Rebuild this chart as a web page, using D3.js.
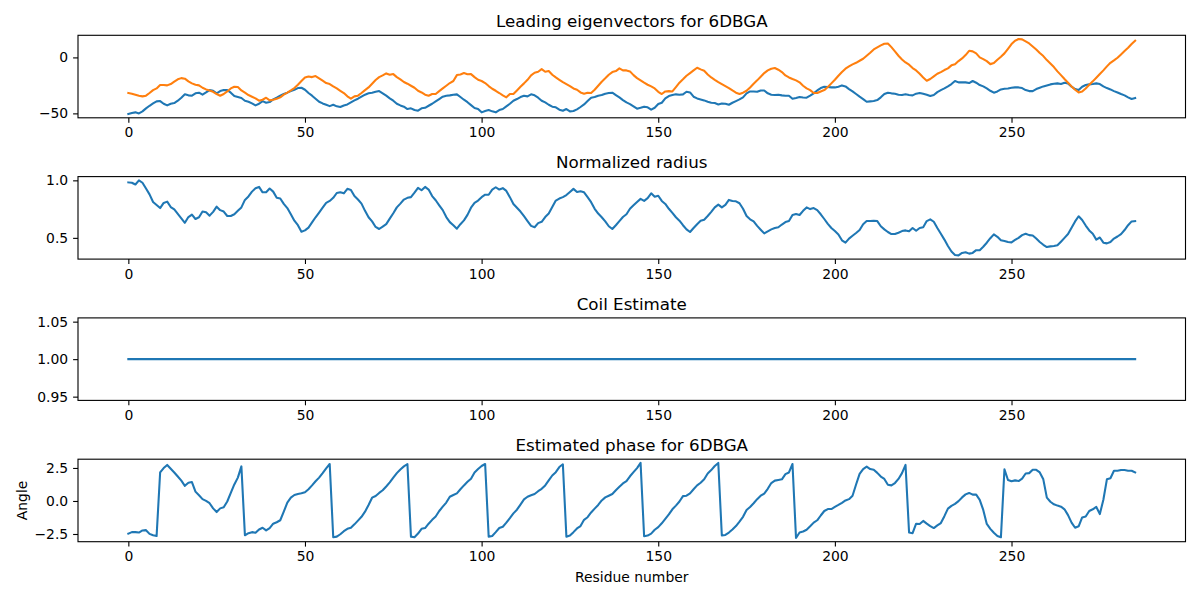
<!DOCTYPE html>
<html>
<head>
<meta charset="utf-8">
<script src="https://cdn.jsdelivr.net/npm/d3@7"></script>
<style>
  body { margin: 0; background: #fff; }
  svg { display: block; font-family: "DejaVu Sans", sans-serif; }
</style>
</head>
<body>
<svg id="chart" width="1200" height="600"></svg>
<script>
// leading eigenvectors (residues 0..285)
var eigvec1 = [
  -50.6, -49.7, -49.1, -50.0, -48.2, -45.5, -43.2, -41.1, -39.3, -39.0,
  -41.4, -42.9, -41.4, -40.8, -38.7, -36.0, -33.0, -33.9, -34.2, -32.1,
  -31.5, -33.3, -31.3, -29.2, -29.8, -32.1, -30.1, -29.2, -29.2, -31.5,
  -34.5, -35.4, -36.3, -38.7, -39.6, -41.1, -42.9, -41.4, -39.0, -40.5,
  -39.9, -37.5, -36.0, -34.2, -32.7, -31.5, -30.1, -28.9, -27.4, -27.1,
  -28.9, -31.8, -34.2, -36.9, -39.6, -41.1, -42.3, -43.5, -42.3, -43.7,
  -44.3, -42.9, -42.0, -40.2, -38.4, -36.9, -35.1, -33.3, -32.1, -31.5,
  -30.7, -30.1, -32.1, -34.2, -36.6, -38.7, -41.4, -42.9, -44.0, -46.1,
  -45.5, -47.0, -47.6, -45.5, -45.0, -43.2, -41.4, -39.3, -37.2, -35.1,
  -34.2, -33.9, -33.3, -33.0, -35.4, -37.8, -40.0, -42.6, -45.2, -46.1,
  -49.1, -47.9, -47.0, -48.2, -49.1, -47.0, -46.1, -43.7, -41.4, -38.7,
  -37.2, -35.4, -34.2, -34.8, -33.0, -33.9, -36.0, -38.7, -40.2, -42.3,
  -44.0, -44.6, -46.7, -47.6, -46.1, -48.2, -47.9, -46.4, -44.3, -42.0,
  -39.0, -36.0, -35.4, -34.2, -33.6, -32.4, -31.8, -31.5, -33.6, -35.7,
  -38.1, -40.2, -41.7, -43.7, -45.8, -45.0, -44.0, -44.6, -46.7, -45.0,
  -41.7, -40.5, -36.6, -34.5, -33.6, -33.0, -33.3, -33.0, -30.7, -31.3,
  -35.1, -36.6, -37.5, -38.4, -39.6, -40.5, -40.8, -42.0, -41.1, -41.4,
  -42.3, -40.5, -39.0, -37.5, -35.7, -32.1, -30.4, -30.4, -30.7, -29.5,
  -29.5, -32.1, -33.3, -33.6, -33.3, -33.9, -34.2, -34.2, -36.9, -36.3,
  -35.4, -35.8, -36.0, -34.2, -32.1, -29.5, -27.4, -26.2, -26.5, -26.8,
  -26.8, -26.2, -25.0, -25.9, -28.3, -30.4, -32.7, -35.1, -37.2, -39.6,
  -39.3, -39.0, -38.1, -35.7, -32.7, -31.5, -32.1, -32.4, -33.3, -33.6,
  -33.0, -33.6, -33.9, -32.4, -31.8, -32.4, -33.3, -34.5, -33.6, -31.0,
  -29.2, -27.7, -25.9, -23.8, -21.1, -22.3, -22.3, -22.3, -22.9, -21.1,
  -22.6, -24.7, -25.9, -27.7, -29.8, -31.5, -30.4, -28.6, -28.0, -27.7,
  -27.1, -26.8, -26.8, -27.4, -29.2, -30.1, -30.1, -28.3, -27.1, -25.9,
  -25.0, -24.1, -23.5, -23.2, -23.8, -22.6, -23.2, -26.2, -28.3, -29.2,
  -26.2, -24.7, -24.1, -23.8, -23.2, -23.8, -25.9, -27.4, -28.6, -30.1,
  -31.3, -32.7, -33.9, -35.7, -37.2, -36.3
];
var eigvec2 = [
  -31.8, -32.4, -33.3, -34.2, -34.8, -34.2, -31.8, -29.2, -27.7, -24.7,
  -24.7, -25.0, -23.8, -21.7, -19.6, -18.5, -19.0, -21.4, -23.2, -24.4,
  -25.0, -27.1, -28.6, -29.5, -30.7, -32.7, -34.2, -32.7, -30.4, -27.7,
  -26.2, -26.5, -29.5, -31.5, -33.6, -35.1, -36.6, -38.7, -37.8, -36.0,
  -38.4, -37.8, -36.9, -35.7, -33.3, -31.5, -29.5, -27.4, -24.4, -21.1,
  -17.9, -17.0, -17.6, -16.7, -18.7, -20.8, -22.9, -23.8, -25.9, -27.7,
  -29.8, -31.8, -34.8, -36.9, -34.8, -34.2, -31.8, -29.2, -26.8, -23.5,
  -20.2, -17.6, -16.1, -14.3, -15.5, -14.9, -17.6, -19.6, -22.0, -23.5,
  -25.3, -27.1, -29.8, -31.3, -33.3, -34.2, -32.7, -32.7, -30.1, -27.7,
  -25.3, -22.9, -21.1, -15.8, -15.2, -14.0, -15.0, -14.9, -17.6, -20.0,
  -21.1, -22.9, -25.6, -28.0, -29.8, -31.8, -33.9, -35.7, -32.7, -32.7,
  -29.5, -26.2, -23.2, -20.0, -16.1, -13.7, -12.8, -10.4, -12.8, -12.2,
  -15.5, -17.9, -20.0, -22.0, -23.8, -25.6, -27.7, -28.9, -31.3, -32.4,
  -31.5, -31.8, -28.9, -25.3, -21.7, -18.7, -15.5, -13.1, -12.2, -9.8,
  -11.6, -11.6, -12.5, -15.8, -18.5, -20.5, -22.6, -24.4, -25.9, -27.7,
  -30.7, -32.7, -30.4, -30.1, -30.4, -26.5, -22.6, -19.6, -16.4, -14.0,
  -11.6, -9.2, -10.7, -11.9, -15.2, -17.9, -20.0, -22.0, -23.8, -25.6,
  -27.4, -29.5, -31.5, -32.7, -31.5, -29.8, -26.8, -23.5, -20.5, -17.3,
  -14.0, -11.6, -10.1, -9.5, -11.0, -13.1, -16.1, -17.9, -19.3, -20.5,
  -22.3, -25.3, -27.6, -29.2, -31.8, -31.8, -30.4, -29.2, -26.5, -23.2,
  -20.0, -16.4, -13.1, -10.1, -8.0, -6.2, -4.8, -3.0, -1.2, 1.5,
  4.2, 7.1, 8.9, 10.7, 12.2, 12.5, 9.2, 5.4, 1.5, -1.8,
  -4.5, -6.5, -9.5, -11.6, -14.6, -17.9, -20.8, -19.3, -17.0, -14.6,
  -13.1, -11.3, -9.8, -7.1, -6.2, -3.3, -0.9, 2.1, 5.9, 5.4,
  3.6, 0.0, -1.5, -3.3, -6.0, -5.1, -2.1, 0.6, 3.6, 7.7,
  11.9, 14.9, 16.4, 16.1, 14.3, 12.5, 9.8, 7.1, 3.9, 1.2,
  -2.4, -5.4, -8.6, -12.5, -15.8, -19.3, -22.6, -25.9, -28.9, -31.3,
  -30.4, -27.7, -24.4, -21.4, -18.2, -14.9, -11.6, -8.0, -4.8, -2.7,
  -0.3, 2.7, 5.7, 8.6, 11.9, 14.9
];
var radius = [
  0.982, 0.979, 0.964, 1.0, 0.979, 0.929, 0.878, 0.812, 0.786, 0.759,
  0.804, 0.815, 0.768, 0.747, 0.708, 0.670, 0.631, 0.681, 0.702, 0.664,
  0.679, 0.729, 0.723, 0.693, 0.726, 0.771, 0.741, 0.729, 0.690, 0.690,
  0.705, 0.735, 0.765, 0.830, 0.860, 0.902, 0.932, 0.943, 0.896, 0.896,
  0.929, 0.902, 0.848, 0.842, 0.795, 0.759, 0.705, 0.649, 0.610, 0.554,
  0.565, 0.589, 0.634, 0.679, 0.720, 0.762, 0.804, 0.821, 0.848, 0.890,
  0.896, 0.887, 0.926, 0.917, 0.863, 0.833, 0.798, 0.735, 0.679, 0.643,
  0.595, 0.577, 0.598, 0.619, 0.667, 0.714, 0.765, 0.798, 0.833, 0.848,
  0.854, 0.893, 0.935, 0.914, 0.943, 0.920, 0.863, 0.827, 0.783, 0.741,
  0.681, 0.637, 0.610, 0.580, 0.619, 0.652, 0.700, 0.762, 0.804, 0.824,
  0.854, 0.875, 0.875, 0.920, 0.940, 0.920, 0.932, 0.908, 0.854, 0.795,
  0.762, 0.729, 0.688, 0.646, 0.604, 0.592, 0.628, 0.640, 0.681, 0.711,
  0.768, 0.824, 0.842, 0.854, 0.872, 0.899, 0.926, 0.899, 0.905, 0.896,
  0.854, 0.810, 0.753, 0.711, 0.679, 0.643, 0.601, 0.577, 0.610, 0.646,
  0.681, 0.705, 0.753, 0.783, 0.812, 0.839, 0.821, 0.845, 0.887, 0.857,
  0.866, 0.821, 0.795, 0.753, 0.717, 0.679, 0.649, 0.610, 0.574, 0.551,
  0.586, 0.619, 0.649, 0.658, 0.690, 0.726, 0.765, 0.789, 0.765, 0.786,
  0.830, 0.821, 0.818, 0.801, 0.753, 0.690, 0.661, 0.643, 0.604, 0.571,
  0.539, 0.557, 0.574, 0.586, 0.592, 0.616, 0.637, 0.646, 0.699, 0.708,
  0.699, 0.735, 0.765, 0.750, 0.759, 0.741, 0.705, 0.664, 0.622, 0.586,
  0.559, 0.530, 0.479, 0.458, 0.494, 0.518, 0.542, 0.568, 0.619, 0.646,
  0.646, 0.649, 0.646, 0.601, 0.574, 0.551, 0.533, 0.533, 0.545, 0.559,
  0.565, 0.557, 0.586, 0.562, 0.586, 0.592, 0.646, 0.661, 0.640, 0.586,
  0.536, 0.485, 0.429, 0.381, 0.351, 0.348, 0.369, 0.375, 0.363, 0.369,
  0.393, 0.393, 0.423, 0.458, 0.497, 0.530, 0.509, 0.479, 0.473, 0.464,
  0.461, 0.482, 0.500, 0.524, 0.536, 0.524, 0.521, 0.494, 0.464, 0.440,
  0.420, 0.426, 0.429, 0.435, 0.467, 0.500, 0.533, 0.589, 0.643, 0.688,
  0.655, 0.607, 0.565, 0.536, 0.485, 0.503, 0.458, 0.452, 0.464, 0.494,
  0.512, 0.533, 0.568, 0.610, 0.643, 0.646
];
var coil = [
  1, 1, 1, 1, 1, 1, 1, 1, 1, 1, 1, 1, 1, 1, 1, 1, 1, 1, 1, 1,
  1, 1, 1, 1, 1, 1, 1, 1, 1, 1, 1, 1, 1, 1, 1, 1, 1, 1, 1, 1,
  1, 1, 1, 1, 1, 1, 1, 1, 1, 1, 1, 1, 1, 1, 1, 1, 1, 1, 1, 1,
  1, 1, 1, 1, 1, 1, 1, 1, 1, 1, 1, 1, 1, 1, 1, 1, 1, 1, 1, 1,
  1, 1, 1, 1, 1, 1, 1, 1, 1, 1, 1, 1, 1, 1, 1, 1, 1, 1, 1, 1,
  1, 1, 1, 1, 1, 1, 1, 1, 1, 1, 1, 1, 1, 1, 1, 1, 1, 1, 1, 1,
  1, 1, 1, 1, 1, 1, 1, 1, 1, 1, 1, 1, 1, 1, 1, 1, 1, 1, 1, 1,
  1, 1, 1, 1, 1, 1, 1, 1, 1, 1, 1, 1, 1, 1, 1, 1, 1, 1, 1, 1,
  1, 1, 1, 1, 1, 1, 1, 1, 1, 1, 1, 1, 1, 1, 1, 1, 1, 1, 1, 1,
  1, 1, 1, 1, 1, 1, 1, 1, 1, 1, 1, 1, 1, 1, 1, 1, 1, 1, 1, 1,
  1, 1, 1, 1, 1, 1, 1, 1, 1, 1, 1, 1, 1, 1, 1, 1, 1, 1, 1, 1,
  1, 1, 1, 1, 1, 1, 1, 1, 1, 1, 1, 1, 1, 1, 1, 1, 1, 1, 1, 1,
  1, 1, 1, 1, 1, 1, 1, 1, 1, 1, 1, 1, 1, 1, 1, 1, 1, 1, 1, 1,
  1, 1, 1, 1, 1, 1, 1, 1, 1, 1, 1, 1, 1, 1, 1, 1, 1, 1, 1, 1,
  1, 1, 1, 1, 1, 1
];
var phase = [
  -2.47, -2.36, -2.36, -2.39, -2.23, -2.21, -2.49, -2.60, -2.65, 2.16,
  2.49, 2.73, 2.44, 2.16, 1.85, 1.54, 1.15, 1.38, 1.43, 0.71,
  0.43, 0.14, 0.01, -0.17, -0.56, -0.84, -0.56, -0.48, -0.04, 0.61,
  1.25, 1.77, 2.62, -2.60, -2.44, -2.36, -2.41, -2.16, -2.03, -2.23,
  -2.05, -1.72, -1.61, -1.46, -0.81, -0.12, 0.25, 0.45, 0.53, 0.58,
  0.66, 0.89, 1.18, 1.49, 1.77, 2.11, 2.47, 2.80, -2.75, -2.70,
  -2.52, -2.29, -2.11, -2.03, -1.77, -1.49, -1.20, -0.81, -0.30, 0.25,
  0.38, 0.61, 0.81, 1.10, 1.41, 1.77, 2.11, 2.39, 2.62, 2.80,
  -2.70, -2.75, -2.47, -2.11, -2.05, -1.72, -1.43, -1.18, -0.76, -0.43,
  -0.12, 0.32, 0.45, 0.58, 0.89, 1.18, 1.45, 1.69, 2.16, 2.42,
  2.65, 2.80, -2.70, -2.65, -2.36, -2.05, -1.95, -1.64, -1.30, -0.94,
  -0.66, -0.27, 0.12, 0.32, 0.43, 0.53, 0.74, 0.92, 1.18, 1.56,
  1.93, 2.18, 2.57, 2.78, -2.70, -2.62, -2.36, -2.08, -1.90, -1.43,
  -1.23, -0.87, -0.58, -0.30, 0.04, 0.27, 0.40, 0.53, 0.81, 1.07,
  1.33, 1.51, 1.87, 2.18, 2.49, 2.88, -2.67, -2.62, -2.47, -2.18,
  -1.98, -1.69, -1.36, -1.02, -0.63, -0.35, -0.04, 0.37, 0.40, 0.58,
  0.89, 1.18, 1.38, 1.64, 2.08, 2.34, 2.65, 2.88, -2.62, -2.57,
  -2.39, -2.16, -1.90, -1.56, -1.20, -0.68, -0.45, -0.17, 0.14, 0.40,
  0.56, 0.92, 1.36, 1.54, 1.59, 1.64, 2.03, 2.16, 2.80, -2.80,
  -2.39, -2.31, -2.18, -1.92, -1.64, -1.46, -1.10, -0.76, -0.61, -0.61,
  -0.45, -0.30, -0.14, 0.04, 0.14, 0.40, 1.25, 2.05, 2.42, 2.60,
  2.42, 2.36, 2.13, 1.85, 1.67, 1.23, 1.18, 1.36, 1.67, 2.11,
  2.73, -2.39, -2.44, -1.72, -1.74, -1.51, -1.72, -1.90, -2.05, -1.85,
  -1.67, -1.15, -0.58, -0.37, -0.22, -0.01, 0.27, 0.50, 0.61, 0.48,
  0.48, 0.09, -0.68, -1.74, -2.11, -2.41, -2.65, -2.75, 2.40, 1.59,
  1.49, 1.56, 1.51, 1.69, 2.08, 2.11, 2.36, 2.36, 2.16, 1.64,
  0.25, -0.06, -0.25, -0.35, -0.43, -0.63, -1.07, -1.64, -2.03, -1.92,
  -1.25, -1.18, -0.76, -0.63, -0.45, -0.99, 0.09, 1.64, 1.72, 2.29,
  2.29, 2.34, 2.34, 2.29, 2.29, 2.16
];

var xTicks = [0, 50, 100, 150, 200, 250];
var eigTicks = [-50, 0];
var radiusTicks = [0.5, 1.0];
var coilTicks = [0.95, 1.00, 1.05];
var phaseTicks = [-2.5, 0.0, 2.5];

var blue = "#1f77b4", orange = "#ff7f0e";

// one entry per subplot, built from the arrays above
var panels = [
  { title: "Leading eigenvectors for 6DBGA", series: [[eigvec1, blue], [eigvec2, orange]], ticks: eigTicks, fmt: d3.format("d") },
  { title: "Normalized radius", series: [[radius, blue]], ticks: radiusTicks, fmt: d3.format(".1f") },
  { title: "Coil Estimate", series: [[coil, blue]], ticks: coilTicks, fmt: d3.format(".2f") },
  { title: "Estimated phase for 6DBGA", series: [[phase, blue]], ticks: phaseTicks, fmt: d3.format(".1f"), ylabel: "Angle" }
];

var svg = d3.select("#chart");
var left = 78, right = 1185.5, top0 = 35.3, step = 141.3, h = 82.5;
var tickLen = 4.9, lw = 1.11;

var n = eigvec1.length - 1;
var x = d3.scaleLinear().domain([-0.05 * n, n * 1.05]).range([left, right]);

// matplotlib-like limits: 5% margin, flat data widened to +-5%
function limits(arrs) {
  var lo = d3.min(arrs, function(a) { return d3.min(a); });
  var hi = d3.max(arrs, function(a) { return d3.max(a); });
  if (lo === hi) { lo = lo * 0.95; hi = hi * 1.05; }
  var pad = (hi - lo) * 0.05;
  return [lo - pad, hi + pad];
}

function minus(f) {
  return function(d) { return f(d).replace("-", "\u2212"); };
}

panels.forEach(function(p, k) {
  var top = top0 + k * step;
  var y = d3.scaleLinear()
    .domain(limits(p.series.map(function(s) { return s[0]; })))
    .range([top + h, top]);

  var g = svg.append("g");

  var line = d3.line()
    .x(function(d, i) { return x(i); })
    .y(function(d) { return y(d); });

  p.series.forEach(function(s) {
    g.append("path")
      .datum(s[0])
      .attr("d", line)
      .attr("fill", "none")
      .attr("stroke", s[1])
      .attr("stroke-width", 2.08)
      .attr("stroke-linejoin", "round")
      .attr("stroke-linecap", "square");
  });

  // axes
  var xa = g.append("g")
    .attr("transform", "translate(0," + (top + h) + ")")
    .call(d3.axisBottom(x).tickValues(xTicks).tickSize(tickLen).tickPadding(4.9).tickFormat(d3.format("d")));
  var ya = g.append("g")
    .attr("transform", "translate(" + left + ",0)")
    .call(d3.axisLeft(y).tickValues(p.ticks).tickSize(tickLen).tickPadding(4.9).tickFormat(minus(p.fmt)));

  [xa, ya].forEach(function(a) {
    a.select(".domain").remove();
    a.selectAll("line").attr("stroke", "#000").attr("stroke-width", lw);
    a.selectAll("text")
      .attr("font-family", "DejaVu Sans, sans-serif")
      .attr("font-size", 13.9)
      .attr("fill", "#000");
  });

  // spines
  g.append("rect")
    .attr("x", left).attr("y", top)
    .attr("width", right - left).attr("height", h)
    .attr("fill", "none")
    .attr("stroke", "#000")
    .attr("stroke-width", lw);

  g.append("text")
    .attr("x", (left + right) / 2)
    .attr("y", top - 8.3)
    .attr("text-anchor", "middle")
    .attr("font-size", 16.7)
    .text(p.title);

  if (p.ylabel) {
    g.append("text")
      .attr("transform", "translate(27," + (top + h / 2) + ") rotate(-90)")
      .attr("text-anchor", "middle")
      .attr("font-size", 13.9)
      .text(p.ylabel);
  }
});

svg.append("text")
  .attr("x", (left + right) / 2)
  .attr("y", 582)
  .attr("text-anchor", "middle")
  .attr("font-size", 13.9)
  .text("Residue number");
</script>
</body>
</html>
